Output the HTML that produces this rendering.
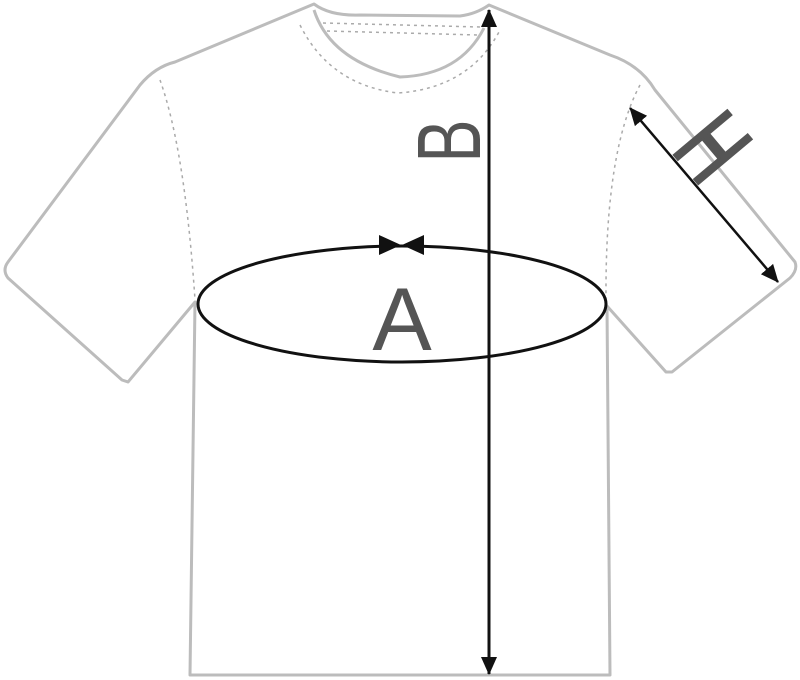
<!DOCTYPE html>
<html><head><meta charset="utf-8"><style>html,body{margin:0;padding:0;background:#fff}svg{display:block}</style></head>
<body>
<svg width="800" height="680" viewBox="0 0 800 680" xmlns="http://www.w3.org/2000/svg">
<defs>
<marker id="ah2" markerWidth="18" markerHeight="18" refX="17" refY="9" orient="auto-start-reverse" markerUnits="userSpaceOnUse" viewBox="0 0 18 18">
<path d="M0,1 L18,9 L0,17 Z" fill="#111"/></marker>
</defs>
<g fill="none" stroke="#bcbcbc" stroke-width="3" stroke-linejoin="round">
<path d="M314,4 Q330,16 360,15 L460,16 Q476,14 489,5 L610,55 Q640,65 655,90 L795,262 Q798,270 790,278 L672,372 L666,372 L607,306 L610,675 L190,675 L195,302 L128,382 L122,380 L8,278 Q2,270 8,262 L140,85 Q155,67 175,62 Z"/>
<path d="M314,10 Q330,60 400,77 Q460,75 484,28"/>
</g>
<g fill="none" stroke="#aaa" stroke-width="1.5" stroke-dasharray="3,4">
<path d="M323,23 L480,27"/>
<path d="M327,31 L478,35"/>
<path d="M300,25 Q330,85 398,93 Q470,88 500,30"/>
<path d="M160,80 Q185,150 195,300"/>
<path d="M640,85 Q605,150 606,300"/>
</g>
<ellipse cx="402" cy="304" rx="204" ry="58" fill="none" stroke="#111" stroke-width="3"/>
<path d="M379,235 L401,245 L379,255 Z M424,235 L402,245 L424,255 Z" fill="#111"/>
<line x1="489" y1="10" x2="489" y2="674" stroke="#111" stroke-width="3" marker-start="url(#ah2)" marker-end="url(#ah2)"/>
<line x1="630" y1="108" x2="778" y2="282" stroke="#111" stroke-width="2.5" marker-start="url(#ah2)" marker-end="url(#ah2)"/>
<text x="402" y="350" font-family="Liberation Sans, sans-serif" font-size="89" fill="#555" text-anchor="middle">A</text>
<text transform="translate(480,141) rotate(-90) scale(0.72,1)" font-family="Liberation Sans, sans-serif" font-size="90" fill="#555" text-anchor="middle">B</text>
<text transform="translate(714,146) rotate(50) scale(0.68,1) translate(0,36)" font-family="Liberation Sans, sans-serif" font-size="100" fill="#555" stroke="#555" stroke-width="3" text-anchor="middle">H</text>
</svg>
</body></html>
